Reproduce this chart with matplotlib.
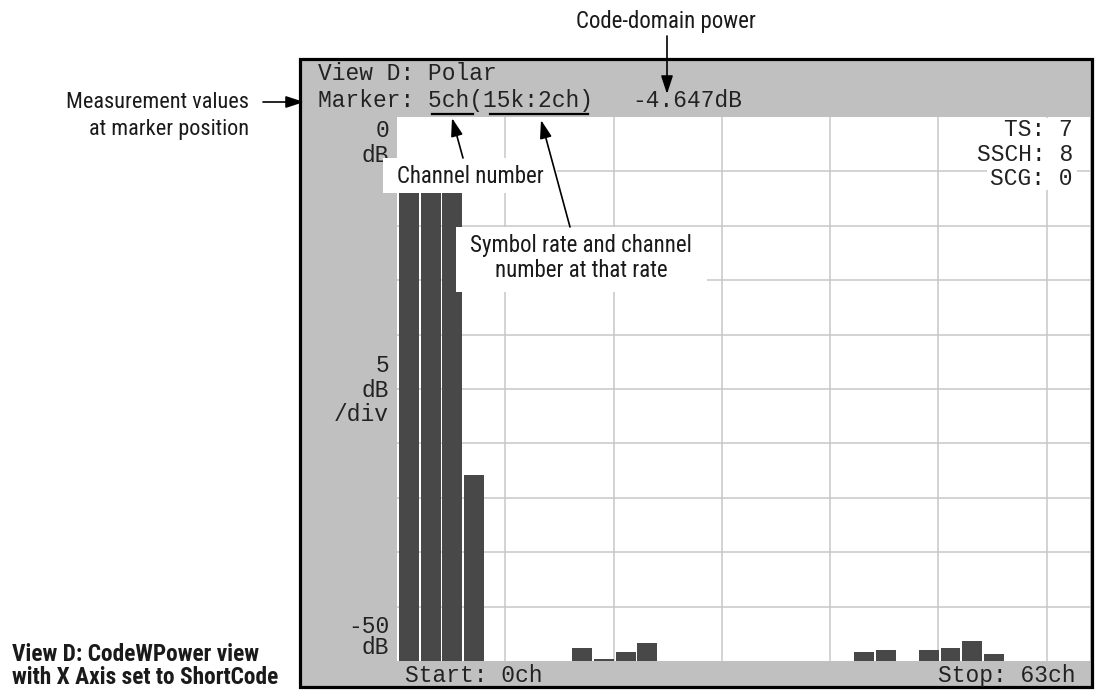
import matplotlib
matplotlib.use('Agg')
import matplotlib.pyplot as plt
from matplotlib.patches import Rectangle
from matplotlib.lines import Line2D
from matplotlib import font_manager

# ---------------- data ----------------
channels = [0, 1, 2, 3, 8, 9, 10, 11, 21, 22, 24, 25, 26, 27]
power_db = [-4.65, -4.65, -4.65, -32.9, -48.8, -49.8, -49.2, -48.35,
            -49.2, -49.0, -49.0, -48.8, -48.2, -49.4]
y_top, y_bottom = 0, -50
n_slots = 32
grid_x = [5, 10, 15, 20, 25, 30]
grid_y = [-45, -40, -35, -30, -25, -20, -15, -10, -5]

header_title = "View D: Polar"
marker_text = "Marker: 5ch(15k:2ch)"
marker_value = "-4.647dB"
status_lines = ["TS: 7", "SSCH: 8", "SCG: 0"]
start_label = "Start: 0ch"
stop_label = "Stop: 63ch"
ylabel_top = ["0", "dB"]
ylabel_mid = ["5", "dB", "/div"]
ylabel_bot = ["-50", "dB"]

callout_power = "Code-domain power"
callout_meas = ["Measurement values", "at marker position"]
callout_chan = "Channel number"
callout_rate = ["Symbol rate and channel", "number at that rate"]
caption = ["View D: CodeWPower view", "with X Axis set to ShortCode"]

# ---------------- layout ----------------
W, H = 1096, 691
fig = plt.figure(figsize=(W / 100, H / 100), dpi=100)
fig.patch.set_facecolor('white')

names = {f.name for f in font_manager.fontManager.ttflist}
cond = [n for n in ['Liberation Sans Narrow', 'Roboto Condensed', 'DejaVu Sans Condensed']
        if n in names]
NARROW = cond[0] if cond else 'Roboto'


def P(x, y):
    return (x / W, 1 - y / H)


MONO = 'Liberation Mono'
MONO_SIZE = 16.5
MONO_COLOR = '#222222'

# instrument frame
frame = Rectangle(P(300, 687), 792 / W, 628 / H, transform=fig.transFigure,
                  facecolor='#c0c0c0', edgecolor='black', lw=2.3, zorder=-1)
fig.patches.append(frame)

# plot area
ax = fig.add_axes([397 / W, 1 - 661 / H, (1090 - 397) / W, (661 - 117) / H])
ax.set_zorder(0)
ax.set_facecolor('white')
ax.set_xlim(0, n_slots)
ax.set_ylim(y_bottom, y_top)
for s in ax.spines.values():
    s.set_visible(False)
ax.set_xticks(grid_x)
ax.set_yticks(grid_y)
ax.tick_params(length=0, labelbottom=False, labelleft=False)
ax.grid(True, color='#c8c8c8', lw=1.1)
ax.set_axisbelow(True)
ax.bar([c + 0.1 for c in channels], [p - y_bottom for p in power_db],
       bottom=y_bottom, width=0.92, align='edge', color='#484848',
       edgecolor='none', zorder=2)


def mtext(x, y, s, ha='left', **kw):
    fig.text(*P(x, y), s, ha=ha, va='baseline', family=MONO,
             fontsize=MONO_SIZE, color=MONO_COLOR, zorder=3, **kw)


# header
mtext(318, 80, header_title)
mtext(318, 107, marker_text)
mtext(632, 107, marker_value)
# underlines
for x0, x1 in [(432, 473), (490, 588)]:
    fig.add_artist(Line2D([x0 / W, x1 / W], [1 - 114 / H, 1 - 114 / H],
                          color='black', lw=1.6, transform=fig.transFigure, zorder=4))

# y labels
for s, yb in zip(ylabel_top, [137, 162]):
    mtext(389, yb, s, ha='right')
for s, yb in zip(ylabel_mid, [372, 397, 421]):
    mtext(389, yb, s, ha='right')
for s, yb in zip(ylabel_bot, [633, 654]):
    mtext(389, yb, s, ha='right')

# bottom labels
mtext(405, 682, start_label)
mtext(1075, 682, stop_label, ha='right')

# status block with white background
fig.patches.append(Rectangle(P(987, 190), (1077 - 987) / W, (190 - 118) / H,
                             transform=fig.transFigure, facecolor='white',
                             edgecolor='none', zorder=2.5))
for s, yb in zip(status_lines, [136, 161, 185]):
    mtext(1073, yb, s, ha='right')

# callout boxes
fig.patches.append(Rectangle(P(383, 193), (557 - 383) / W, (193 - 158) / H,
                             transform=fig.transFigure, facecolor='white',
                             edgecolor='none', zorder=5))
fig.patches.append(Rectangle(P(456, 292), (707 - 456) / W, (292 - 227) / H,
                             transform=fig.transFigure, facecolor='white',
                             edgecolor='none', zorder=5))


def ntext(x, y, s, ha='center', weight='normal', size=16.5):
    fig.text(*P(x, y), s, ha=ha, va='baseline', family=NARROW,
             fontsize=size, color='#1a1a1a', weight=weight, zorder=6)


ntext(470, 183, callout_chan)
ntext(581, 252, callout_rate[0])
ntext(581, 277, callout_rate[1])
ntext(666, 28, callout_power)
ntext(249, 108, callout_meas[0], ha='right', size=16)
ntext(249, 135, callout_meas[1], ha='right', size=16)
ntext(12, 661, caption[0], ha='left', weight='bold', size=16.8)
ntext(12, 684, caption[1], ha='left', weight='bold', size=16.8)


def arrow(x0, y0, x1, y1):
    fig.add_artist(matplotlib.patches.FancyArrowPatch(
        P(x0, y0), P(x1, y1), transform=fig.transFigure,
        arrowstyle='-|>,head_length=0.55,head_width=0.18', mutation_scale=20,
        color='black', lw=1.2, shrinkA=0, shrinkB=0, zorder=7))


arrow(463, 158, 452, 118)
arrow(570, 227, 541, 120)
arrow(667, 36, 667, 94)
arrow(263, 102, 304, 102)

fig.savefig('out.png', dpi=100)
